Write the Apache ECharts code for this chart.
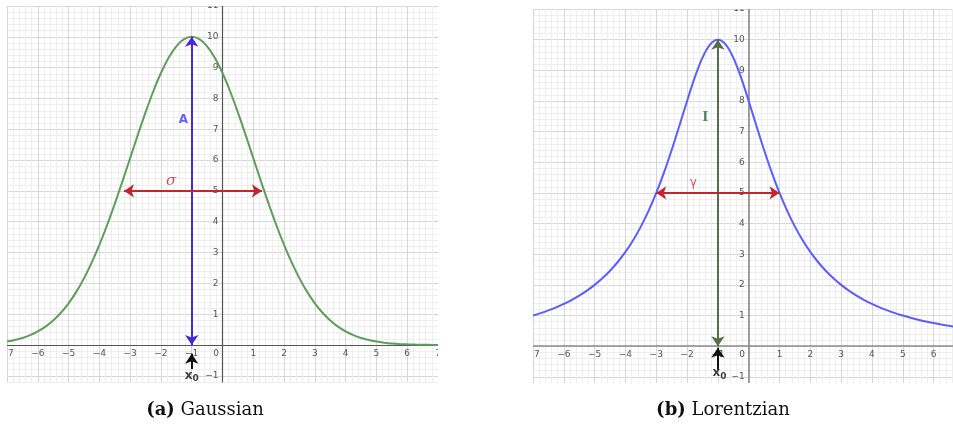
<!DOCTYPE html>
<html>
<head>
<meta charset="utf-8">
<script src="https://cdn.jsdelivr.net/npm/echarts@6/dist/echarts.min.js"></script>
<style>html,body{margin:0;padding:0;background:#fff}#c{width:953px;height:428px}</style>
</head>
<body>
<div id="c"></div>
<script>
// ---- data (x step 0.25 from -7 to 7) ----
const curveX = [-7,-6.75,-6.5,-6.25,-6,-5.75,-5.5,-5.25,-5,-4.75,-4.5,-4.25,-4,-3.75,-3.5,-3.25,-3,-2.75,-2.5,-2.25,-2,-1.75,-1.5,-1.25,-1,-0.75,-0.5,-0.25,0,0.25,0.5,0.75,1,1.25,1.5,1.75,2,2.25,2.5,2.75,3,3.25,3.5,3.75,4,4.25,4.5,4.75,5,5.25,5.5,5.75,6,6.25,6.5,6.75,7];
const gaussY = [0.111,0.160,0.228,0.319,0.439,0.596,0.796,1.046,1.353,1.724,2.163,2.671,3.247,3.886,4.578,5.311,6.065,6.819,7.548,8.226,8.825,9.321,9.692,9.922,10,9.922,9.692,9.321,8.825,8.226,7.548,6.819,6.065,5.311,4.578,3.886,3.247,2.671,2.163,1.724,1.353,1.046,0.796,0.596,0.439,0.319,0.228,0.160,0.111,0.076,0.051,0.034,0.022,0.014,0.009,0.005,0.003];
const lorY = [1.0,1.079,1.168,1.267,1.379,1.506,1.649,1.813,2.0,2.215,2.462,2.747,3.077,3.459,3.902,4.414,5,5.664,6.4,7.191,8,8.767,9.412,9.846,10,9.846,9.412,8.767,8,7.191,6.4,5.664,5,4.414,3.902,3.459,3.077,2.747,2.462,2.215,2.0,1.813,1.649,1.506,1.379,1.267,1.168,1.079,1.0,0.929,0.865,0.807,0.755,0.707,0.664,0.624,0.588];

const gaussAmpArrow = [[-1,0],[-1,10]];
const gaussWidthArrow = [[-3.2,5],[1.28,5]];
const gaussX0Arrow = [[-1,-0.78],[-1,-0.28]];
const lorAmpArrow = [[-1,0],[-1,10]];
const lorWidthArrow = [[-3,5],[1,5]];
const lorX0Arrow = [[-1,-0.76],[-1,-0.05]];

const gaussLabelPos = {A:[-1.27,7.3], sigma:[-1.67,5.32], x0:[-1.0,-1.0]};
const lorLabelPos = {I:[-1.41,7.47], gamma:[-1.8,5.32], x0:[-0.95,-0.88]};

const captions = ['(a)', 'Gaussian', '(b)', 'Lorentzian'];

// axis ranges
const gaussXRange = [-7, 7], gaussYRange = [-1.2, 11];
const lorXRange = [-7, 6.63], lorYRange = [-1.2, 11];

// ---- layout / styles ----
const G0 = {left:7, top:6, width:431, height:376};
const G1 = {left:533, top:9, width:420, height:374};
const MAJ = '#d6d6d6', MIN = '#eeeeee';
const xColors = [MAJ, MIN, MIN, MIN, MIN];   // ticks start at -7
const yColors = [MIN, MAJ, MIN, MIN, MIN];   // ticks start at -1.2

function fmtX(v){
  const r = Math.round(v);
  if (Math.abs(v - r) > 1e-6) return '';
  if (r === 0) return '{z|0}';
  return (r < 0 ? '\u2212' : '') + Math.abs(r);
}
function fmtY(v){
  const r = Math.round(v);
  if (Math.abs(v - r) > 1e-6 || r === 0) return '';
  return (r < 0 ? '\u2212' : '') + Math.abs(r);
}
// offset that places an axis on the other axis' zero
function zeroOff(size, range){ return -size * (0 - range[0]) / (range[1] - range[0]); }

function mkX(gi, range, g, yr, col, w){
  return {type:'value', gridIndex:gi, min:range[0], max:range[1], interval:0.2,
    position:'bottom', offset: zeroOff(g.height, yr),
    axisLine:{show:true, onZero:false, lineStyle:{color:col, width:w}},
    axisTick:{show:false},
    splitLine:{show:true, lineStyle:{color:xColors, width:1}},
    axisLabel:{formatter:fmtX, fontSize:9, color:'#555', margin:4, fontFamily:'DejaVu Sans',
      showMinLabel:true, showMaxLabel:true, hideOverlap:false,
      rich:{z:{fontSize:9, color:'#555', padding:[0,13,0,0], fontFamily:'DejaVu Sans'}}}};
}
function mkY(gi, range, g, xr, col, w){
  return {type:'value', gridIndex:gi, min:range[0], max:range[1], interval:0.2,
    position:'left', offset: zeroOff(g.width, xr),
    axisLine:{show:true, onZero:false, lineStyle:{color:col, width:w}},
    axisTick:{show:false},
    splitLine:{show:true, lineStyle:{color:yColors, width:1}},
    axisLabel:{formatter:fmtY, fontSize:9, color:'#555', margin:4, fontFamily:'DejaVu Sans',
      showMinLabel:true, showMaxLabel:true, hideOverlap:false}};
}
function zip(xs, ys){ return xs.map((x,i)=>[x, ys[i]]); }
function arrow(gi, coords, color, sym){
  return {type:'lines', coordinateSystem:'cartesian2d', xAxisIndex:gi, yAxisIndex:gi,
    symbol:sym, symbolSize:10, z:5, silent:true,
    lineStyle:{color:color, width:2, opacity:1, curveness:0},
    data:[{coords:coords}]};
}
function labels(gi, items){
  return {type:'scatter', xAxisIndex:gi, yAxisIndex:gi, symbolSize:1, z:6, silent:true,
    itemStyle:{color:'transparent'},
    data: items.map(it => ({value:it.pos, label:Object.assign({show:true, position:'inside'}, it.label)}))};
}
const x0Rich = {x:{fontSize:12, fontWeight:'bold', color:'#111', fontFamily:'DejaVu Sans'},
                s:{fontSize:9, fontWeight:'bold', color:'#111', padding:[6,0,0,0], fontFamily:'DejaVu Sans'}};

const chart = echarts.init(document.getElementById('c'), null, {renderer:'canvas'});
chart.setOption({
  animation:false,
  backgroundColor:'#fff',
  grid:[Object.assign({outerBoundsMode:'none', containLabel:false}, G0),
        Object.assign({outerBoundsMode:'none', containLabel:false}, G1)],
  xAxis:[mkX(0, gaussXRange, G0, gaussYRange, '#555', 1.2), mkX(1, lorXRange, G1, lorYRange, '#8a8a8a', 1.6)],
  yAxis:[mkY(0, gaussYRange, G0, gaussXRange, '#555', 1.2), mkY(1, lorYRange, G1, lorXRange, '#8a8a8a', 1.6)],
  series:[
    {type:'line', xAxisIndex:0, yAxisIndex:0, data:zip(curveX,gaussY), smooth:0.3, showSymbol:false,
     lineStyle:{color:'#5f9d5a', width:2}, z:4, silent:true},
    {type:'line', xAxisIndex:1, yAxisIndex:1, data:zip(curveX,lorY), smooth:0.3, showSymbol:false,
     lineStyle:{color:'#5c5cff', width:2}, z:4, silent:true},
    arrow(0, gaussAmpArrow, '#4b26e0', ['arrow','arrow']),
    arrow(0, gaussWidthArrow, '#c0262b', ['arrow','arrow']),
    arrow(0, gaussX0Arrow, '#111', ['none','arrow']),
    arrow(1, lorAmpArrow, '#536e48', ['arrow','arrow']),
    arrow(1, lorWidthArrow, '#c0262b', ['arrow','arrow']),
    arrow(1, lorX0Arrow, '#111', ['none','arrow']),
    labels(0, [
      {pos:gaussLabelPos.A, label:{formatter:'A', color:'#3b3bf5', fontSize:12, fontWeight:'bold', fontFamily:'DejaVu Sans'}},
      {pos:gaussLabelPos.sigma, label:{formatter:'\u03c3', color:'#c0262b', fontSize:15, fontStyle:'italic', fontFamily:'DejaVu Serif'}},
      {pos:gaussLabelPos.x0, label:{formatter:'{x|x}{s|0}', rich:x0Rich}}
    ]),
    labels(1, [
      {pos:lorLabelPos.I, label:{formatter:'I', color:'#2f6b2f', fontSize:13, fontWeight:'bold', fontFamily:'DejaVu Serif'}},
      {pos:lorLabelPos.gamma, label:{formatter:'\u03b3', color:'#d02a2a', fontSize:12, fontFamily:'DejaVu Sans'}},
      {pos:lorLabelPos.x0, label:{formatter:'{x|x}{s|0}', rich:x0Rich}}
    ])
  ],
  graphic:[
    {type:'rect', shape:{x:0, y:0, width:7, height:392}, style:{fill:'#fff'}, z:100, silent:true},
    {type:'rect', shape:{x:0, y:0, width:953, height:6}, style:{fill:'#fff'}, z:100, silent:true},
    {type:'rect', shape:{x:533, y:0, width:420, height:9}, style:{fill:'#fff'}, z:100, silent:true},
    {type:'rect', shape:{x:438, y:0, width:95, height:392}, style:{fill:'#fff'}, z:100, silent:true},
    {type:'rect', shape:{x:0, y:383, width:953, height:10}, style:{fill:'#fff'}, z:100, silent:true},
    {type:'text', x:205, y:410, z:101, style:{text:'{b|'+captions[0]+'} '+captions[1], align:'center', verticalAlign:'middle',
      fontFamily:'DejaVu Serif', fontSize:18, fill:'#111',
      rich:{b:{fontFamily:'DejaVu Serif', fontSize:18, fontWeight:'bold', fill:'#111'}}}},
    {type:'text', x:723, y:410, z:101, style:{text:'{b|'+captions[2]+'} '+captions[3], align:'center', verticalAlign:'middle',
      fontFamily:'DejaVu Serif', fontSize:18, fill:'#111',
      rich:{b:{fontFamily:'DejaVu Serif', fontSize:18, fontWeight:'bold', fill:'#111'}}}}
  ]
});
</script>
</body>
</html>
